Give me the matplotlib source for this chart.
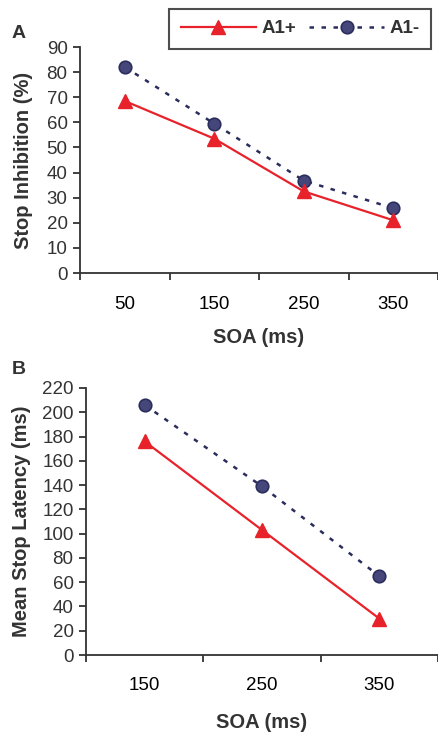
import matplotlib
matplotlib.use("Agg")
import matplotlib.pyplot as plt
from matplotlib.lines import Line2D

plt.rcParams['font.family'] = ['Liberation Sans', 'DejaVu Sans']

# Panel A data
soa_a = ["50", "150", "250", "350"]
a1plus_a = [68.5, 53.5, 32.5, 21.0]
a1minus_a = [82.0, 59.5, 36.8, 25.8]

# Panel B data
soa_b = ["150", "250", "350"]
a1plus_b = [176, 103, 30]
a1minus_b = [206, 139, 65]

RED = "#e8222b"
NAVY = "#2b2d5c"
NAVY_FILL = "#45467a"
AX = "#333333"
TICK_FS = 13.5
LAB_FS = 14.5
DASH = (0, (1.8, 3.0))

fig = plt.figure(figsize=(4.38, 7.34), dpi=100)

def style(ax, ylim, yticks, xpad):
    for s in ["top", "right"]:
        ax.spines[s].set_visible(False)
    for s in ["left", "bottom"]:
        ax.spines[s].set_color(AX)
        ax.spines[s].set_linewidth(1.3)
    ax.set_ylim(*ylim)
    ax.set_yticks(yticks)
    ax.tick_params(axis='both', colors=AX, labelcolor=AX, labelsize=TICK_FS,
                   width=1.3, length=5, direction='out')
    ax.tick_params(axis='y', pad=4)
    ax.tick_params(axis='x', which='minor', length=0, labelsize=TICK_FS, pad=xpad)

def draw(ax, cats, plus, minus):
    n = len(cats)
    xs = [i + 0.5 for i in range(n)]
    ax.plot(xs, minus, color=NAVY, lw=1.8, linestyle=DASH,
            marker='o', markersize=9, markerfacecolor=NAVY_FILL,
            markeredgecolor=NAVY, markeredgewidth=1.2, zorder=2)
    ax.plot(xs, plus, color=RED, lw=1.6, marker='^', markersize=10,
            markerfacecolor=RED, markeredgecolor=RED, zorder=3)
    ax.set_xlim(0, n)
    ax.set_xticks(range(n + 1))
    ax.set_xticklabels([])
    ax.set_xticks(xs, minor=True)
    ax.set_xticklabels(cats, minor=True)

# Panel A
axA = fig.add_axes([80 / 438, 1 - 273 / 734, 1 - 80 / 438, (273 - 47) / 734])
draw(axA, soa_a, a1plus_a, a1minus_a)
style(axA, (0, 90), range(0, 91, 10), xpad=16.5)
axA.set_xlabel("SOA (ms)", fontsize=LAB_FS, fontweight='bold', color=AX, labelpad=11)
axA.set_ylabel("Stop Inhibition (%)", fontsize=LAB_FS, fontweight='bold', color=AX)
axA.yaxis.set_label_coords(-(80 - 33) / 358, 0.5)
fig.text(12 / 438, 1 - 33 / 734, "A", fontsize=14, fontweight='bold', color=AX, va='center')

# Panel B
axB = fig.add_axes([86 / 438, 1 - 655 / 734, 1 - 86 / 438, (655 - 388) / 734])
draw(axB, soa_b, a1plus_b, a1minus_b)
style(axB, (0, 220), range(0, 221, 20), xpad=15.5)
axB.set_xlabel("SOA (ms)", fontsize=LAB_FS, fontweight='bold', color=AX, labelpad=14)
axB.set_ylabel("Mean Stop Latency (ms)", fontsize=LAB_FS, fontweight='bold', color=AX)
axB.yaxis.set_label_coords(-(86 - 31) / 352, 0.5)
fig.text(12 / 438, 1 - 369 / 734, "B", fontsize=14, fontweight='bold', color=AX, va='center')

# Legend
handles = [
    Line2D([], [], color=RED, lw=1.6, marker='^', markersize=10,
           markerfacecolor=RED, markeredgecolor=RED),
    Line2D([], [], color=NAVY, lw=1.8, linestyle=DASH, marker='o',
           markersize=9, markerfacecolor=NAVY_FILL, markeredgecolor=NAVY,
           markeredgewidth=1.2),
]
leg = fig.legend(handles, ["A1+", "A1-"], ncol=2, loc='upper right',
                 bbox_to_anchor=(431 / 438, 1 - 9 / 734), borderaxespad=0,
                 frameon=True, fancybox=False, handlelength=4.0,
                 handletextpad=0.3, columnspacing=0.7, borderpad=0.6,
                 prop={'size': 13.5, 'weight': 'bold'})
leg.get_frame().set_edgecolor("#222222")
leg.get_frame().set_linewidth(1.5)
for t in leg.get_texts():
    t.set_color(AX)

fig.savefig("out.png", dpi=100)
